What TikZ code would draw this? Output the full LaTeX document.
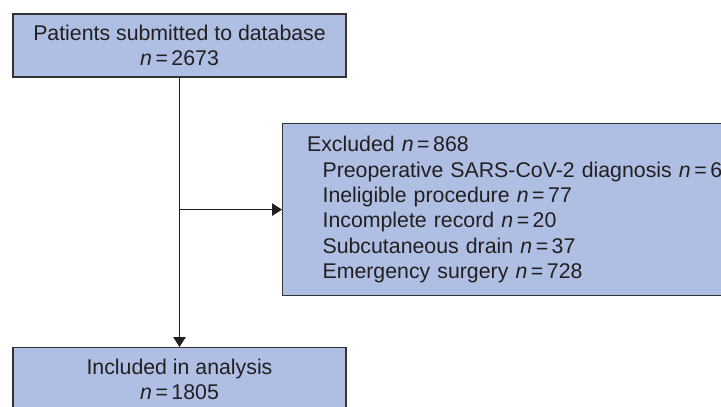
\documentclass[tikz,border=0pt]{standalone}
\usepackage{fontspec}
\setmainfont{Liberation Sans}
\usetikzlibrary{arrows.meta}
\definecolor{boxblue}{RGB}{174,191,227}
\definecolor{boxline}{RGB}{51,51,51}
\definecolor{txtgrey}{RGB}{35,31,32}
\tikzset{
  flowbox/.style={draw=boxline, fill=boxblue, line width=1.2pt, text=txtgrey,
    font=\fontsize{21.3}{25.3}\selectfont, inner sep=0pt},
  flowarrow/.style={draw=txtgrey, line width=1pt, -{Triangle[length=10pt,width=12.5pt]}}
}
\newcommand{\nval}[1]{\textit{n}\,=\,#1}
\begin{document}
\begin{tikzpicture}[x=1pt,y=1pt]
  \clip (0,0) rectangle (721,-407);
  \node[flowbox, minimum width=333pt, minimum height=63pt, align=center] (submitted) at (179.5,-45.5)
    {Patients submitted to database\\\nval{2673}};
  \node[flowbox, minimum width=333pt, minimum height=63pt, align=center, anchor=north] (included) at (179.5,-347)
    {Included in analysis\\\nval{1805}};
  \node[flowbox, text width=431pt, minimum height=172pt, inner xsep=24.5pt, align=left, anchor=north west] (excluded) at (282,-123)
    {Excluded \nval{868}\\
     \hspace*{15.5pt}Preoperative SARS-CoV-2 diagnosis \nval{6}\\
     \hspace*{15.5pt}Ineligible procedure \nval{77}\\
     \hspace*{15.5pt}Incomplete record \nval{20}\\
     \hspace*{15.5pt}Subcutaneous drain \nval{37}\\
     \hspace*{15.5pt}Emergency surgery \nval{728}};
  \coordinate (branch) at (submitted.south |- excluded.west);
  % main flow and exclusions
  \draw[flowarrow] (submitted.south) -- (included.north);
  \draw[flowarrow] (branch) -- (excluded.west);
\end{tikzpicture}
\end{document}
